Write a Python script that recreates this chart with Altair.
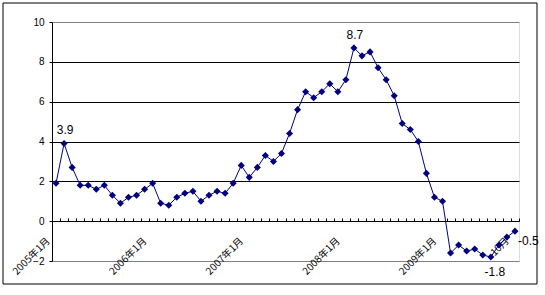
import altair as alt
import pandas as pd

# China CPI year-on-year (%), monthly, 2005-01 .. 2009-10
cpi = [1.9, 3.9, 2.7, 1.8, 1.8, 1.6, 1.8, 1.3, 0.9, 1.2, 1.3, 1.6,
       1.9, 0.9, 0.8, 1.2, 1.4, 1.5, 1.0, 1.3, 1.5, 1.4, 1.9, 2.8,
       2.2, 2.7, 3.3, 3.0, 3.4, 4.4, 5.6, 6.5, 6.2, 6.5, 6.9, 6.5,
       7.1, 8.7, 8.3, 8.5, 7.7, 7.1, 6.3, 4.9, 4.6, 4.0, 2.4, 1.2,
       1.0, -1.6, -1.2, -1.5, -1.4, -1.7, -1.8, -1.2, -0.8, -0.5]

label_idx = [0, 12, 24, 36, 48, 57]
label_txt = ["2005年1月", "2006年1月", "2007年1月", "2008年1月", "2009年1月", "10月"]

ann_above_idx = [1, 37]
ann_below_idx = [54]
ann_right_idx = [57]

y_ticks = [-2, 0, 2, 4, 6, 8, 10]

n = len(cpi)
df = pd.DataFrame({"idx": list(range(n)), "v": cpi})

def ann_df(ids):
    return pd.DataFrame({"idx": ids, "v": [cpi[i] for i in ids],
                         "t": [f"{cpi[i]:.1f}" for i in ids]})

label_expr = " : ".join(
    [f"datum.value == {i} ? '{t}'" for i, t in zip(label_idx, label_txt)]) + " : ''"

W, H = 467, 239
xscale = alt.Scale(domain=[-0.5, n - 0.5], nice=False, zero=False)
yscale = alt.Scale(domain=[-2, 10], nice=False)

NAVY = "#000080"

yaxis = alt.Axis(values=y_ticks, grid=True,
                 gridColor={"condition": {"test": "datum.value == 10 || datum.value == -2",
                                          "value": "#808080"}, "value": "#000000"},
                 domainColor="#000000", tickColor="#000000", tickSize=3,
                 labelFont="Liberation Sans", labelFontSize=10, labelColor="#000000",
                 labelPadding=5, title=None)

x_labels_axis = alt.Axis(orient="bottom", offset=-40, values=label_idx,
                         labelExpr=label_expr, labelAngle=-45, labelAlign="right",
                         labelBaseline="middle", labelPadding=18, labelOffset=-8,
                         labelFont="Noto Sans CJK SC", labelFontSize=10,
                         labelColor="#000000", labelOverlap=False,
                         ticks=False, domain=False, grid=False, title=None)

x_ticks_axis = alt.Axis(orient="top", offset=-(H - 40), values=[i - 0.5 for i in range(n + 1)],
                        labels=False, ticks=True, tickSize=3, tickColor="#000000",
                        domain=True, domainColor="#000000", grid=False, title=None)

Y = lambda: alt.Y("v:Q", scale=yscale, axis=yaxis)

line = alt.Chart(df).mark_line(color=NAVY, strokeWidth=1).encode(
    x=alt.X("idx:Q", scale=xscale, axis=x_labels_axis),
    y=Y(),
)

pts = alt.Chart(df).mark_point(shape="diamond", filled=True, color=NAVY, size=50, opacity=1).encode(
    x=alt.X("idx:Q", scale=xscale, axis=x_ticks_axis),
    y=Y(),
)

tfont = dict(font="Liberation Sans", fontSize=12, color="#000000")

above = alt.Chart(ann_df(ann_above_idx)).mark_text(baseline="bottom", dy=-6, dx=1, **tfont).encode(
    x=alt.X("idx:Q", scale=xscale, axis=None), y=Y(), text="t:N")
below = alt.Chart(ann_df(ann_below_idx)).mark_text(baseline="top", dy=10, dx=4, **tfont).encode(
    x=alt.X("idx:Q", scale=xscale, axis=None), y=Y(), text="t:N")
right = alt.Chart(ann_df(ann_right_idx)).mark_text(align="left", baseline="middle", dx=3, dy=10, **tfont).encode(
    x=alt.X("idx:Q", scale=xscale, axis=None), y=Y(), text="t:N")

frame = alt.Chart(pd.DataFrame({"a": [0]})).mark_rect(filled=False, stroke="#000000", strokeWidth=1).encode(
    x=alt.value(-49), x2=alt.value(485), y=alt.value(-19), y2=alt.value(262))

chart = alt.layer(frame, line, pts, above, below, right).resolve_axis(x="independent").properties(
    width=W, height=H,
    autosize=alt.AutoSizeParams(type="none"),
    padding={"left": 52, "top": 22, "right": 26, "bottom": 34},
).configure_view(stroke="#808080", strokeWidth=1).configure(background="#ffffff")

chart.save("out.html", embed_options={"renderer": "svg", "actions": False})
